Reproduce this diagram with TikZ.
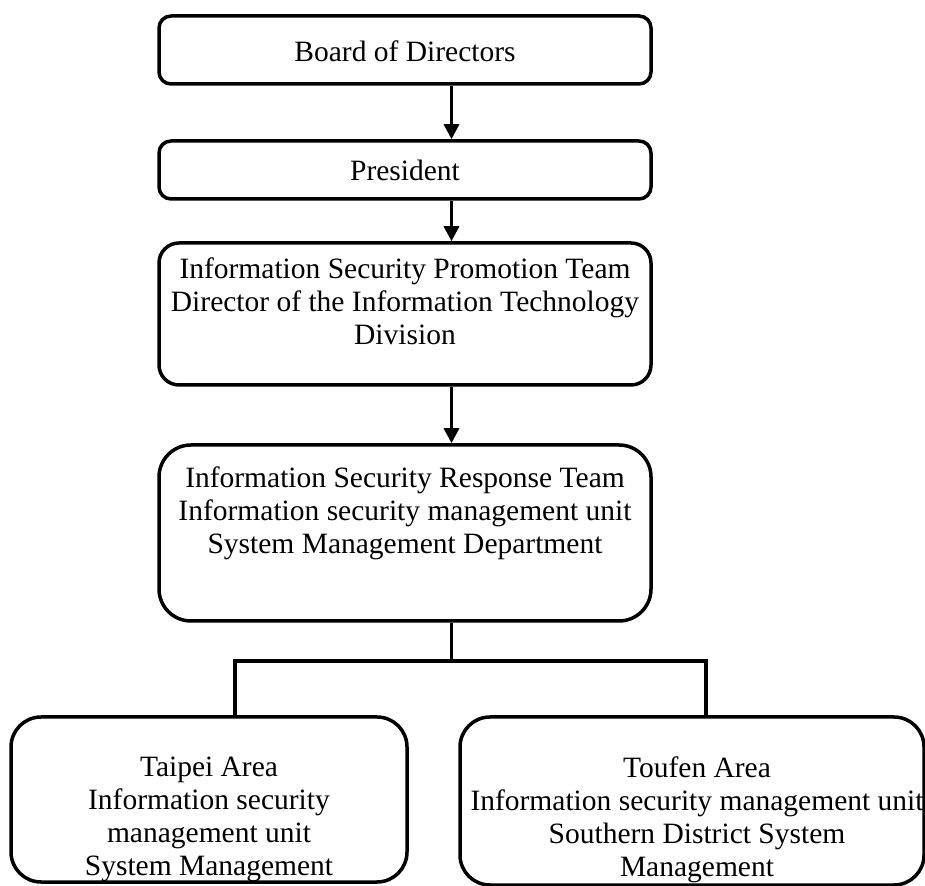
\documentclass[tikz,border=0pt]{standalone}
\usepackage{fontspec}
\setmainfont{Liberation Serif}
\usetikzlibrary{arrows.meta,calc}

\tikzset{
  orgbox/.style={draw=black, line width=3.5pt, fill=white, inner sep=0pt},
  orglabel/.style={align=center, inner sep=0pt, font=\fontsize{29.5}{33}\selectfont},
  feed/.style={line width=3.2pt, -{Triangle[width=15pt,length=15pt]}},
  branch/.style={line width=3.2pt}
}

\begin{document}
\begin{tikzpicture}[x=1pt,y=1pt]
  \useasboundingbox (0,0) rectangle (925,885);
  \clip (0,0) rectangle (925,885);

  % main chain of command
  \node[orgbox, rounded corners=12pt, minimum width=492pt, minimum height=68pt] (board) at (405,835) {};
  \node[orglabel] at ($(board.center)+(0,-1)$) {Board of Directors};

  \node[orgbox, rounded corners=12pt, minimum width=492pt, minimum height=58pt] (pres) at (405,715) {};
  \node[orglabel] at (pres.center) {President};

  \node[orgbox, rounded corners=20pt, minimum width=492pt, minimum height=142pt] (promo) at (405,571) {};
  \node[orglabel] at ($(promo.center)+(0,13)$) {Information Security Promotion Team\\Director of the Information Technology\\Division};

  \node[orgbox, rounded corners=32pt, minimum width=492pt, minimum height=176pt] (resp) at (405,352) {};
  \node[orglabel] at ($(resp.center)+(0,20)$) {Information Security Response Team\\Information security management unit\\System Management Department};

  % regional units
  \node[orgbox, rounded corners=30pt, minimum width=396pt, minimum height=165pt] (taipei) at (209,85.5) {};
  \node[orglabel] at ($(taipei.center)+(0,-20)$) {Taipei Area\\Information security\\management unit\\System Management};

  \node[orgbox, rounded corners=30pt, minimum width=464pt, minimum height=168pt] (toufen) at (692,84) {};
  \node[orglabel] at ($(toufen.center)+(5,-19)$) {Toufen Area\\Information security management unit\\Southern District System\\Management};

  % connector positions
  \coordinate (spine) at (451.5,0);
  \coordinate (bar) at (451.5,224);
  \coordinate (dropL) at (235,224);
  \coordinate (dropR) at (706,224);

  \draw[feed] (board.south -| spine) -- (pres.north -| spine);
  \draw[feed] (pres.south -| spine) -- (promo.north -| spine);
  \draw[feed] (promo.south -| spine) -- (resp.north -| spine);

  \draw[branch] (resp.south -| spine) -- (bar);
  \draw[branch] (taipei.north -| dropL) -- (dropL) -- (dropR) -- (toufen.north -| dropR);
\end{tikzpicture}
\end{document}
